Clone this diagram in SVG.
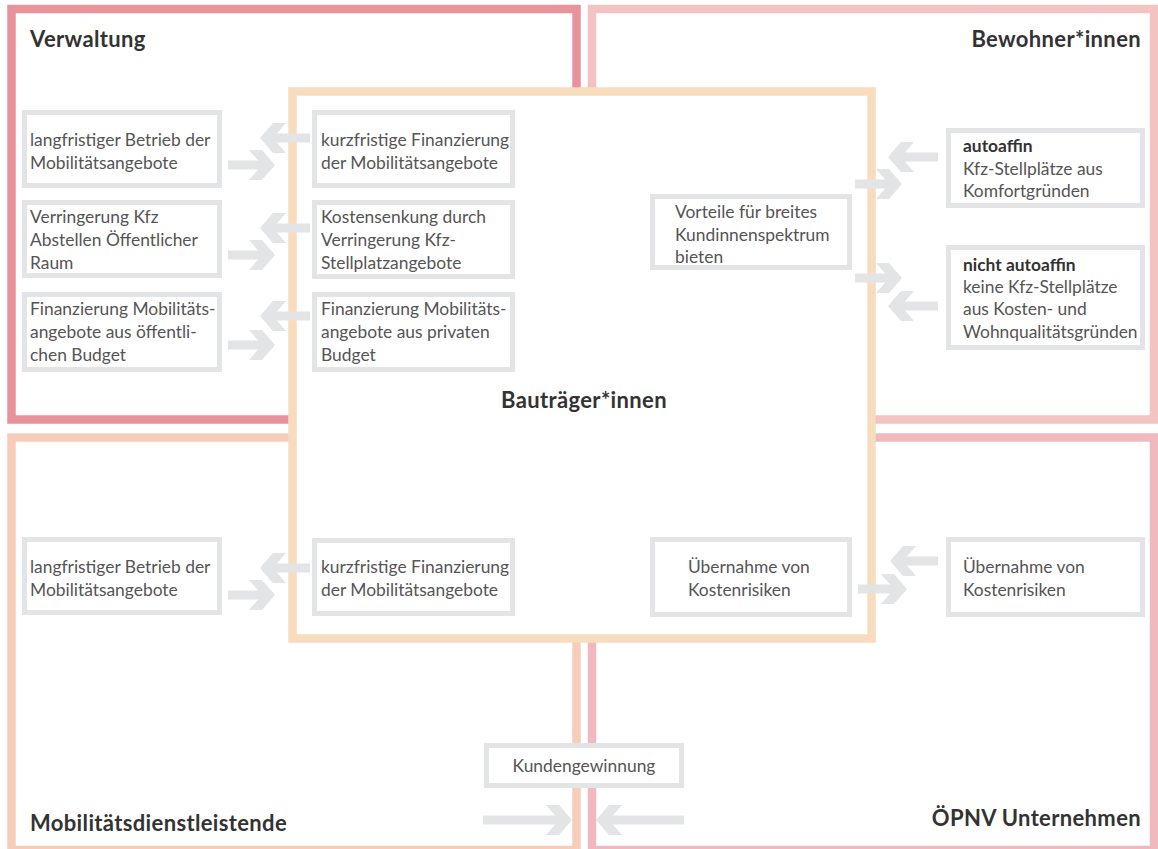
<svg xmlns="http://www.w3.org/2000/svg" width="1158" height="849" viewBox="0 0 1158 849">
  <style>
    .frame { fill: none; stroke-width: 8.5; }
    .core { fill: #ffffff; stroke: #f8dcbe; stroke-width: 8.5; }
    .box { fill: #ffffff; stroke: #e3e4e5; stroke-width: 5; }
    .txt { font-family: Lato, "Liberation Sans", sans-serif; font-size: 17.4px; fill: #555555; }
    .bold { font-weight: 700; fill: #333333; }
    .title { font-family: Lato, "Liberation Sans", sans-serif; font-size: 22px; font-weight: 700; fill: #333333; letter-spacing: 0.35px; }
    .arrow { fill: none; stroke: #e3e4e5; stroke-width: 9; marker-end: url(#head); }
  </style>
  <defs>
    <marker id="head" viewBox="0 0 30 34" refX="18" refY="17" markerWidth="30" markerHeight="34" markerUnits="userSpaceOnUse" orient="auto">
      <polygon points="28,17 15,2 2,2 15,17 2,32 15,32" fill="#e3e4e5"/>
    </marker>
  </defs>

  <rect width="1158" height="849" fill="#ffffff"/>

  <!-- actor areas -->
  <g id="area-verwaltung">
    <rect class="frame" x="11.5" y="9" width="565" height="410.5" stroke="#e8939b"/>
    <text class="title" x="30" y="47">Verwaltung</text>
  </g>
  <g id="area-bewohner">
    <rect class="frame" x="592" y="9" width="562" height="410.5" stroke="#f2c3c1"/>
    <text class="title" x="1141" y="47" text-anchor="end">Bewohner*innen</text>
  </g>
  <g id="area-mobilitaet">
    <rect class="frame" x="11.5" y="437.5" width="565" height="412.5" stroke="#f6cdb9"/>
    <text class="title" x="30" y="831">Mobilitätsdienstleistende</text>
  </g>
  <g id="area-oepnv">
    <rect class="frame" x="592" y="437.5" width="562" height="412.5" stroke="#efb9bd"/>
    <text class="title" x="1141" y="826" text-anchor="end">ÖPNV Unternehmen</text>
  </g>
  <!-- central area sits above the four corner areas -->
  <g id="area-bautraeger">
    <rect class="core" x="292.5" y="91.5" width="579" height="547"/>
    <text class="title" x="584" y="408" text-anchor="middle">Bauträger*innen</text>
  </g>

  <!-- Verwaltung -->
  <g id="n-verw-betrieb">
    <rect class="box" x="24.5" y="112.5" width="195" height="73"/>
    <text class="txt" x="30" y="146">langfristiger Betrieb der<tspan x="30" dy="23">Mobilitätsangebote</tspan></text>
  </g>
  <g id="n-verw-kfz">
    <rect class="box" x="24.5" y="202.5" width="195" height="73"/>
    <text class="txt" x="30" y="223">Verringerung Kfz<tspan x="30" dy="23">Abstellen Öffentlicher</tspan><tspan x="30" dy="23">Raum</tspan></text>
  </g>
  <g id="n-verw-budget">
    <rect class="box" x="24.5" y="294.5" width="195" height="75"/>
    <text class="txt" x="30" y="315">Finanzierung Mobilitäts-<tspan x="30" dy="23">angebote aus öffentli-</tspan><tspan x="30" dy="23">chen Budget</tspan></text>
  </g>

  <!-- Bauträger*innen -->
  <g id="n-bau-finanz">
    <rect class="box" x="314.5" y="112.5" width="198" height="73"/>
    <text class="txt" x="321" y="146">kurzfristige Finanzierung<tspan x="321" dy="23">der Mobilitätsangebote</tspan></text>
  </g>
  <g id="n-bau-kosten">
    <rect class="box" x="314.5" y="202.5" width="198" height="74"/>
    <text class="txt" x="321" y="223">Kostensenkung durch<tspan x="321" dy="23">Verringerung Kfz-</tspan><tspan x="321" dy="23">Stellplatzangebote</tspan></text>
  </g>
  <g id="n-bau-budget">
    <rect class="box" x="314.5" y="294.5" width="198" height="75"/>
    <text class="txt" x="321" y="315">Finanzierung Mobilitäts-<tspan x="321" dy="23">angebote aus privaten</tspan><tspan x="321" dy="23">Budget</tspan></text>
  </g>
  <g id="n-bau-vorteile">
    <rect class="box" x="652.5" y="196.5" width="197" height="71"/>
    <text class="txt" x="675" y="218">Vorteile für breites<tspan x="675" dy="23">Kundinnenspektrum</tspan><tspan x="675" dy="22">bieten</tspan></text>
  </g>
  <g id="n-bau-finanz2">
    <rect class="box" x="314.5" y="540.5" width="198" height="73"/>
    <text class="txt" x="321" y="573">kurzfristige Finanzierung<tspan x="321" dy="23">der Mobilitätsangebote</tspan></text>
  </g>
  <g id="n-bau-risiko">
    <rect class="box" x="652.5" y="539.5" width="197" height="75"/>
    <text class="txt" x="688" y="573">Übernahme von<tspan x="688" dy="23">Kostenrisiken</tspan></text>
  </g>

  <!-- Bewohner*innen -->
  <g id="n-bew-auto">
    <rect class="box" x="948.5" y="130.5" width="194" height="75"/>
    <text class="txt" x="963" y="152"><tspan class="bold">autoaffin</tspan><tspan x="963" dy="23">Kfz-Stellplätze aus</tspan><tspan x="963" dy="22">Komfortgründen</tspan></text>
  </g>
  <g id="n-bew-nichtauto">
    <rect class="box" x="948.5" y="247.5" width="194" height="100"/>
    <text class="txt" x="963" y="271"><tspan class="bold">nicht autoaffin</tspan><tspan x="963" dy="22">keine Kfz-Stellplätze</tspan><tspan x="963" dy="22">aus Kosten- und</tspan><tspan x="963" dy="23">Wohnqualitätsgründen</tspan></text>
  </g>

  <!-- Mobilitätsdienstleistende -->
  <g id="n-mob-betrieb">
    <rect class="box" x="24.5" y="539.5" width="195" height="73"/>
    <text class="txt" x="30" y="573">langfristiger Betrieb der<tspan x="30" dy="23">Mobilitätsangebote</tspan></text>
  </g>

  <!-- ÖPNV Unternehmen -->
  <g id="n-oepnv-risiko">
    <rect class="box" x="948.5" y="539.5" width="194" height="75"/>
    <text class="txt" x="963" y="573">Übernahme von<tspan x="963" dy="23">Kostenrisiken</tspan></text>
  </g>

  <!-- shared: Mobilitätsdienstleistende / ÖPNV -->
  <g id="n-kunden">
    <rect class="box" x="486.5" y="745.5" width="195" height="40"/>
    <text class="txt" x="584" y="772" text-anchor="middle">Kundengewinnung</text>
  </g>

  <!-- exchange arrows -->
  <g id="connectors">
    <path class="arrow" d="M310 138 H270"/>
    <path class="arrow" d="M228 165 H265"/>
    <path class="arrow" d="M310 228 H270"/>
    <path class="arrow" d="M228 255 H265"/>
    <path class="arrow" d="M310 316 H270"/>
    <path class="arrow" d="M228 345 H265"/>

    <path class="arrow" d="M938 157 H898"/>
    <path class="arrow" d="M855 184 H892"/>
    <path class="arrow" d="M855 278 H892"/>
    <path class="arrow" d="M938 306 H898"/>

    <path class="arrow" d="M310 568 H270"/>
    <path class="arrow" d="M228 595 H265"/>

    <path class="arrow" d="M938 561 H900"/>
    <path class="arrow" d="M858 589 H897"/>

    <path class="arrow" d="M483 820 H562"/>
    <path class="arrow" d="M684 820 H606"/>
  </g>
</svg>
